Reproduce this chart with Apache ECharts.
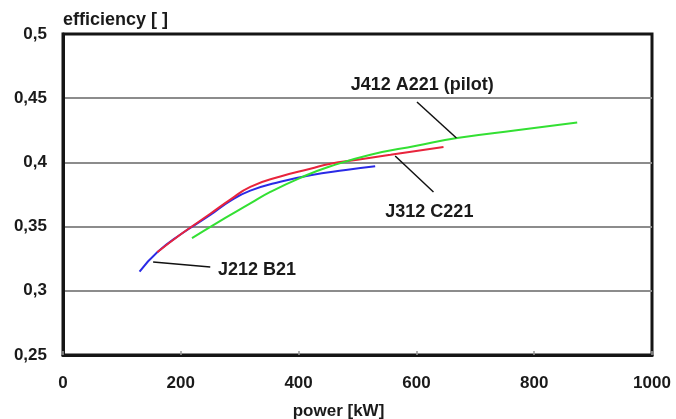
<!DOCTYPE html>
<html>
<head>
<meta charset="utf-8">
<script src="https://cdn.jsdelivr.net/npm/echarts@6/dist/echarts.min.js"></script>
<style>
html,body{margin:0;padding:0;background:#fff;}
#chart{width:676px;height:419px;}
</style>
</head>
<body>
<div id="chart"></div>
<script>
// X-axis ticks and Y-axis ticks
const xTicks = [0, 200, 400, 600, 800, 1000];
const yTicks = [0.25, 0.3, 0.35, 0.4, 0.45, 0.5];

// J212 B21 (blue)
const powerB21 = [130, 160, 200, 250, 284, 318, 369, 420, 480, 530];
const effB21   = [0.315, 0.330, 0.344, 0.359, 0.370, 0.378, 0.385, 0.390, 0.394, 0.397];

// J312 C221 (red)
const powerC221 = [160, 200, 250, 284, 318, 369, 420, 454, 500, 556, 646];
const effC221   = [0.330, 0.344, 0.360, 0.371, 0.381, 0.389, 0.395, 0.399, 0.402, 0.406, 0.412];

// J412 A221 (pilot) (green)
const powerA221 = [219, 258, 318, 352, 403, 454, 522, 600, 669, 770, 873];
const effA221   = [0.341, 0.352, 0.368, 0.377, 0.388, 0.397, 0.406, 0.413, 0.419, 0.425, 0.431];

// Annotations
const labelNames = ['J412 A221 (pilot)', 'J312 C221', 'J212 B21'];
const labelX = [610, 622, 263];
const labelY = [0.460, 0.361, 0.316];
const labelAlign = ['center', 'center', 'left'];
const leaderX = [[601, 668], [564, 629], [153, 250]];
const leaderY = [[0.447, 0.419], [0.405, 0.377], [0.3225, 0.3186]];

const zip = (xs, ys) => xs.map((x, i) => [x, ys[i]]);
const FONT = '"Liberation Sans", Arial, sans-serif';

const series = [
  { name: 'J212 B21', type: 'line', smooth: true, showSymbol: false,
    data: zip(powerB21, effB21), lineStyle: { color: '#2a2ae6', width: 2 }, z: 3 },
  { name: 'J312 C221', type: 'line', smooth: true, showSymbol: false,
    data: zip(powerC221, effC221), lineStyle: { color: '#e8243c', width: 2 }, z: 4 },
  { name: 'J412 A221 (pilot)', type: 'line', smooth: true, showSymbol: false,
    data: zip(powerA221, effA221), lineStyle: { color: '#33e033', width: 2 }, z: 5 }
];
leaderX.forEach((xs, i) => {
  series.push({ type: 'line', showSymbol: false, silent: true,
    data: zip(xs, leaderY[i]), lineStyle: { color: '#111', width: 1.5 }, z: 6 });
});
series.push({
  type: 'scatter', symbolSize: 0, silent: true, z: 7,
  itemStyle: { color: '#1a1a1a', opacity: 1 },
  data: labelNames.map((n, i) => ({
    value: [labelX[i], labelY[i]],
    label: { show: true, position: 'inside', formatter: n, align: labelAlign[i],
      color: '#1a1a1a', textBorderWidth: 0, textBorderColor: 'transparent',
      fontWeight: 'bold', fontSize: 18, fontFamily: FONT }
  }))
});

const chart = echarts.init(document.getElementById('chart'));
chart.setOption({
  animation: false,
  backgroundColor: '#fff',
  grid: { left: 63, right: 24, top: 34, bottom: 64, show: true, borderColor: '#151515', borderWidth: 3,
    containLabel: false, outerBoundsMode: 'none' },
  xAxis: {
    type: 'value', min: xTicks[0], max: xTicks[xTicks.length - 1], interval: 200,
    name: 'power [kW]', nameLocation: 'middle', nameGap: 48,
    nameTextStyle: { color: '#1a1a1a', fontWeight: 'bold', fontSize: 17, fontFamily: FONT, padding: [0, 38, 0, 0] },
    axisLine: { show: true, lineStyle: { color: '#151515', width: 3 } },
    axisTick: { show: true, inside: true, length: 4, lineStyle: { color: '#999', width: 1.5 } },
    axisLabel: { color: '#1a1a1a', fontWeight: 'bold', fontSize: 17, fontFamily: FONT, margin: 20,
      formatter: v => String(v) },
    splitLine: { show: false }
  },
  yAxis: {
    type: 'value', min: yTicks[0], max: yTicks[yTicks.length - 1], interval: 0.05,
    name: 'efficiency [ ]', nameLocation: 'end', nameGap: 5,
    nameTextStyle: { color: '#1a1a1a', fontWeight: 'bold', fontSize: 18, fontFamily: FONT, align: 'left' },
    axisLine: { show: true, lineStyle: { color: '#151515', width: 3 } },
    axisTick: { show: false },
    axisLabel: { color: '#1a1a1a', fontWeight: 'bold', fontSize: 17, fontFamily: FONT, margin: 16,
      formatter: v => String(+v.toFixed(2)).replace('.', ',') },
    splitLine: { show: true, showMinLine: false, showMaxLine: false, lineStyle: { color: '#8c8c8c', width: 2 } }
  },
  series: series
});
</script>
</body>
</html>
